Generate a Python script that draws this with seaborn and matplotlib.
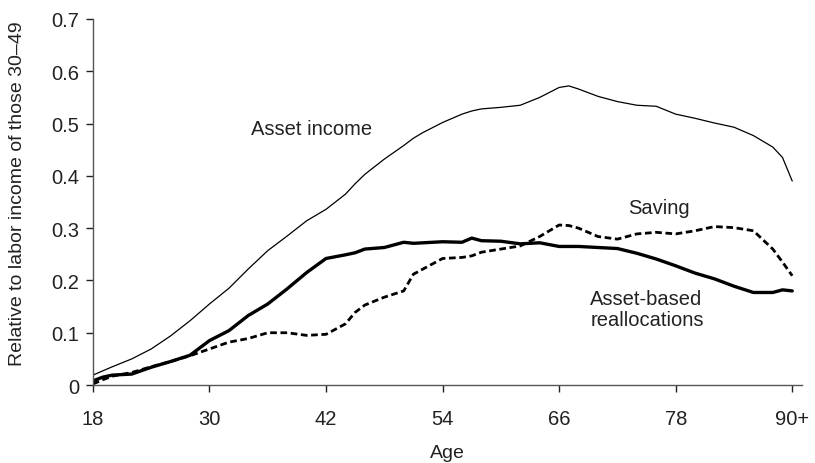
import matplotlib
matplotlib.use("Agg")
import matplotlib.pyplot as plt
import seaborn as sns
import pandas as pd

# ages (last point stands for 90+)
ages = [18, 19, 20, 22, 24, 26, 28, 30, 32, 34, 36, 38, 40, 42, 44, 45, 46, 48, 50, 51, 52,
        54, 56, 57, 58, 60, 62, 64, 66, 67, 68, 70, 72, 74, 76, 78, 80, 82, 84, 86, 88, 89, 90]

asset_income = [0.019, 0.027, 0.035, 0.050, 0.069, 0.094, 0.123, 0.155, 0.185, 0.222, 0.257,
                0.285, 0.314, 0.336, 0.365, 0.385, 0.403, 0.432, 0.458, 0.472, 0.483, 0.502,
                0.518, 0.524, 0.528, 0.531, 0.535, 0.550, 0.569, 0.572, 0.566, 0.552, 0.542,
                0.535, 0.533, 0.518, 0.510, 0.501, 0.493, 0.477, 0.455, 0.435, 0.390]

reallocations = [0.008, 0.015, 0.019, 0.021, 0.034, 0.045, 0.057, 0.085, 0.104, 0.133, 0.155,
                 0.184, 0.215, 0.242, 0.249, 0.253, 0.260, 0.263, 0.273, 0.271, 0.272, 0.274,
                 0.273, 0.281, 0.276, 0.275, 0.270, 0.272, 0.265, 0.265, 0.265, 0.263, 0.261,
                 0.252, 0.241, 0.228, 0.214, 0.203, 0.189, 0.177, 0.177, 0.182, 0.180]

saving = [0.002, 0.010, 0.017, 0.024, 0.035, 0.045, 0.056, 0.069, 0.082, 0.089, 0.100,
          0.100, 0.095, 0.097, 0.117, 0.139, 0.153, 0.168, 0.180, 0.212, 0.222, 0.242,
          0.244, 0.247, 0.254, 0.260, 0.266, 0.284, 0.306, 0.305, 0.300, 0.284, 0.279,
          0.289, 0.292, 0.289, 0.295, 0.303, 0.301, 0.295, 0.260, 0.235, 0.209]

tick_ages = [18, 30, 42, 54, 66, 78, 90]
tick_labels = ["18", "30", "42", "54", "66", "78", "90+"]

df = pd.DataFrame({"age": ages, "asset_income": asset_income,
                   "reallocations": reallocations, "saving": saving})

sns.set_style("ticks")
plt.rcParams['font.family'] = ['Liberation Sans', 'DejaVu Sans']

fig = plt.figure(figsize=(8.15, 4.64), dpi=100)
ax = fig.add_axes([0.114, 0.168, 0.870, 0.789])

sns.lineplot(data=df, x="age", y="asset_income", color="black", linewidth=0.9, ax=ax)
sns.lineplot(data=df, x="age", y="reallocations", color="black", linewidth=2.4, ax=ax)
sns.lineplot(data=df, x="age", y="saving", color="black", linewidth=2.0,
             linestyle=(0, (2.4, 1.3)), ax=ax)

ax.set_xlim(18, 91)
ax.set_ylim(0, 0.7)
ax.set_xticks(tick_ages)
ax.set_xticklabels(tick_labels)
ax.set_yticks([0, 0.1, 0.2, 0.3, 0.4, 0.5, 0.6, 0.7])
ax.set_yticklabels(["0", "0.1", "0.2", "0.3", "0.4", "0.5", "0.6", "0.7"])
ax.tick_params(labelsize=14.5, colors="#222222", length=5, width=1, pad=5)
ax.tick_params(axis="x", pad=12)
for s in ["left", "bottom"]:
    ax.spines[s].set_color("#555555")
    ax.spines[s].set_linewidth(1)
sns.despine(ax=ax)

ax.set_xlabel("Age", fontsize=14, color="#222222", labelpad=12)
ax.set_ylabel("Relative to labor income of those 30\u201349", fontsize=14,
              color="#222222")
ax.yaxis.set_label_coords(-0.094, 0.525)

ax.text(40.5, 0.49, "Asset income", fontsize=14.5, ha="center", va="center", color="#222222")
ax.text(76.3, 0.34, "Saving", fontsize=14.5, ha="center", va="center", color="#222222")
ax.text(69.2, 0.145, "Asset-based\nreallocations", fontsize=14.5, ha="left", va="center",
        color="#222222", linespacing=1.1)

fig.savefig("out.png", dpi=100)
